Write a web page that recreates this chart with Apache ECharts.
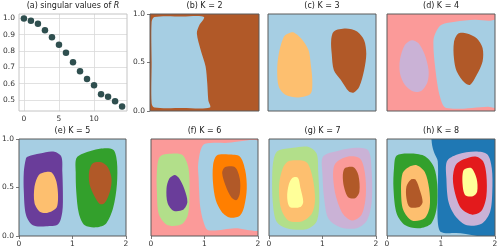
<!DOCTYPE html>
<html><head><meta charset="utf-8">
<script src="https://cdn.jsdelivr.net/npm/echarts@6/dist/echarts.min.js"></script>
<style>html,body{margin:0;padding:0;background:#fff}#c{width:500px;height:251px}</style>
</head><body><div id="c"></div>
<script>
// ---- data ----
const singularIndex = [0,1,2,3,4,5,6,7,8,9,10,11,12,13,14];
const singularValues = [1.000,0.986,0.967,0.928,0.885,0.838,0.789,0.732,0.676,0.629,0.590,0.535,0.520,0.492,0.461];
const singularXTicks = [0,5,10];
const singularYTicks = [0.5,0.6,0.7,0.8,0.9,1.0];
const panelTitles = ['(b) K = 2','(c) K = 3','(d) K = 4','(e) K = 5','(f) K = 6','(g) K = 7','(h) K = 8'];

// Paired colour map
const paired = {lb:'#a6cee3',b:'#1f78b4',lg:'#b2df8a',g:'#33a02c',pk:'#fb9a99',r:'#e31a1c',
  lo:'#fdbf6f',o:'#ff7f00',lv:'#cab2d6',pu:'#6a3d9a',y:'#ffff99',br:'#b15928'};

// regions: [colour, outline in (x,y) domain units]; null outline = whole domain
const regionsK2 = [
  ['br', null],
  ['lb', [[0.08,0.97],[0.6,0.975],[0.99,0.97],[0.9,0.88],[0.86,0.8],[0.93,0.63],[1.02,0.46],[1.05,0.29],[1.07,0.11],[1.1,0.035],[0.6,0.03],[0.08,0.035],[0.03,0.08],[0.03,0.5],[0.03,0.92]]]
];
const regionsK3 = [
  ['lb', null],
  ['lo', [[0.42,0.81],[0.30,0.77],[0.20,0.59],[0.17,0.42],[0.20,0.25],[0.33,0.165],[0.57,0.14],[0.79,0.18],[0.82,0.32],[0.79,0.49],[0.75,0.63],[0.61,0.75],[0.48,0.81]]],
  ['br', [[1.22,0.82],[1.44,0.85],[1.65,0.82],[1.78,0.73],[1.82,0.59],[1.78,0.42],[1.69,0.25],[1.59,0.19],[1.50,0.20],[1.35,0.32],[1.22,0.42],[1.18,0.59],[1.17,0.73]]]
];
const regionsK4 = [
  ['pk', null],
  ['lb', [[1.01,0.89],[1.26,0.92],[1.63,0.94],[1.88,0.93],[2.1,0.93],[2.1,0.04],[1.87,0.045],[1.10,0.03],[0.98,0.15],[0.89,0.46],[0.86,0.73],[0.92,0.83]]],
  ['lv', [[0.46,0.73],[0.33,0.68],[0.24,0.53],[0.24,0.39],[0.33,0.27],[0.49,0.20],[0.64,0.21],[0.75,0.30],[0.77,0.42],[0.70,0.58],[0.58,0.70]]],
  ['br', [[1.32,0.80],[1.48,0.80],[1.66,0.75],[1.77,0.65],[1.77,0.51],[1.66,0.37],[1.54,0.27],[1.44,0.29],[1.29,0.41],[1.24,0.54],[1.24,0.71]]]
];
const regionsK5 = [
  ['lb', null],
  ['pu', [[0.17,0.82],[0.39,0.85],[0.64,0.87],[0.79,0.82],[0.81,0.66],[0.82,0.46],[0.81,0.25],[0.73,0.12],[0.51,0.10],[0.26,0.11],[0.13,0.22],[0.09,0.46],[0.09,0.66],[0.13,0.80]]],
  ['lo', [[0.51,0.66],[0.37,0.63],[0.29,0.51],[0.29,0.34],[0.39,0.25],[0.54,0.24],[0.70,0.29],[0.73,0.41],[0.70,0.56],[0.62,0.65]]],
  ['g',  [[1.07,0.80],[1.20,0.85],[1.51,0.90],[1.76,0.89],[1.83,0.77],[1.83,0.53],[1.76,0.29],[1.63,0.13],[1.45,0.09],[1.23,0.11],[1.12,0.23],[1.07,0.46],[1.06,0.66]]],
  ['br', [[1.38,0.75],[1.54,0.76],[1.66,0.71],[1.73,0.59],[1.70,0.46],[1.60,0.34],[1.51,0.33],[1.41,0.41],[1.32,0.53],[1.31,0.66]]]
];
const regionsK6 = [
  ['pk', null],
  ['lb', [[1.01,0.95],[1.38,0.96],[2.1,0.95],[2.1,0.08],[1.57,0.08],[1.07,0.06],[0.98,0.15],[0.92,0.30],[0.90,0.46],[0.89,0.60],[0.88,0.73],[0.93,0.89]]],
  ['lg', [[0.17,0.82],[0.45,0.85],[0.60,0.83],[0.70,0.70],[0.72,0.46],[0.69,0.22],[0.57,0.12],[0.32,0.11],[0.15,0.22],[0.11,0.46],[0.11,0.66]]],
  ['pu', [[0.44,0.63],[0.52,0.60],[0.62,0.49],[0.68,0.35],[0.60,0.27],[0.42,0.26],[0.31,0.34],[0.29,0.49],[0.34,0.59]]],
  ['o',  [[1.23,0.83],[1.45,0.84],[1.66,0.82],[1.76,0.68],[1.79,0.49],[1.74,0.30],[1.66,0.21],[1.47,0.19],[1.32,0.25],[1.21,0.37],[1.16,0.54],[1.16,0.73]]],
  ['br', [[1.38,0.71],[1.57,0.71],[1.66,0.59],[1.66,0.44],[1.60,0.37],[1.50,0.40],[1.40,0.51],[1.33,0.65]]]
];
const regionsK7 = [
  ['lb', null],
  ['lg', [[0.17,0.88],[0.45,0.91],[0.73,0.92],[0.89,0.85],[0.92,0.66],[0.94,0.35],[0.89,0.15],[0.70,0.07],[0.33,0.08],[0.14,0.15],[0.07,0.35],[0.06,0.63],[0.09,0.80]]],
  ['lo', [[0.36,0.77],[0.58,0.78],[0.72,0.75],[0.82,0.59],[0.86,0.37],[0.80,0.23],[0.61,0.15],[0.36,0.16],[0.22,0.29],[0.19,0.53],[0.26,0.70]]],
  ['y',  [[0.44,0.60],[0.54,0.60],[0.59,0.49],[0.64,0.35],[0.59,0.30],[0.39,0.30],[0.34,0.40],[0.37,0.53]]],
  ['lv', [[1.01,0.82],[1.30,0.88],[1.64,0.91],[1.86,0.88],[1.92,0.66],[1.92,0.35],[1.83,0.16],[1.64,0.08],[1.33,0.09],[1.11,0.18],[1.03,0.39],[1.00,0.63]]],
  ['pk', [[1.28,0.77],[1.48,0.82],[1.70,0.80],[1.79,0.66],[1.81,0.42],[1.73,0.22],[1.55,0.16],[1.38,0.23],[1.25,0.41],[1.20,0.59],[1.21,0.71]]],
  ['br', [[1.42,0.70],[1.58,0.71],[1.67,0.63],[1.69,0.46],[1.61,0.39],[1.48,0.40],[1.40,0.51],[1.38,0.63]]]
];
const regionsK8 = [
  ['lb', null],
  ['b',  [[0.88,0.85],[0.83,0.96],[0.85,1.1],[2.1,1.1],[2.1,0.03],[1.28,0.03],[1.0,0.04],[0.94,0.15],[0.94,0.46],[0.94,0.77]]],
  ['g',  [[0.18,0.83],[0.46,0.85],[0.71,0.82],[0.87,0.71],[0.93,0.53],[0.92,0.29],[0.82,0.13],[0.59,0.08],[0.34,0.11],[0.18,0.23],[0.12,0.49],[0.13,0.70]]],
  ['lo', [[0.40,0.71],[0.55,0.73],[0.70,0.66],[0.78,0.49],[0.79,0.30],[0.69,0.18],[0.46,0.16],[0.30,0.27],[0.26,0.47],[0.29,0.65]]],
  ['br', [[0.44,0.58],[0.53,0.58],[0.61,0.47],[0.66,0.35],[0.60,0.30],[0.42,0.30],[0.36,0.39],[0.36,0.51]]],
  ['lv', [[1.11,0.77],[1.30,0.84],[1.64,0.87],[1.86,0.84],[1.94,0.70],[1.95,0.46],[1.91,0.25],[1.76,0.13],[1.48,0.11],[1.27,0.20],[1.14,0.35],[1.10,0.59]]],
  ['r',  [[1.27,0.73],[1.42,0.79],[1.64,0.82],[1.78,0.77],[1.84,0.63],[1.84,0.41],[1.75,0.26],[1.58,0.22],[1.38,0.28],[1.27,0.42],[1.22,0.59]]],
  ['y',  [[1.42,0.68],[1.56,0.70],[1.66,0.59],[1.67,0.46],[1.59,0.41],[1.45,0.42],[1.40,0.53]]]
];
const panelRegions = [regionsK2,regionsK3,regionsK4,regionsK5,regionsK6,regionsK7,regionsK8];

// ---- layout ----
const FONT = 'DejaVu Sans';
const boxes = [[19,14,108,97],[150,14,109,97],[268,14,108,97],[387,14,108,97],
               [19,139,107,97],[151,139,107,97],[269,139,107,97],[387,139,108,97]];

const grid = [], xAxis = [], yAxis = [], series = [], title = [];
boxes.forEach((b, i) => {
  grid.push({left:b[0], top:b[1], width:b[2], height:b[3], show:true, z:10,
    backgroundColor:'transparent', borderWidth:1,
    borderColor: i === 0 ? '#c4c4c4' : '#5a5a5a', outerBoundsMode:'none', containLabel:false});
});
const lblStyle = {fontFamily:FONT, fontSize:7.5, color:'#333'};

// panel (a)
title.push({text:'(a) singular values of {i|R}', left:boxes[0][0]+boxes[0][2]/2, top:boxes[0][1]-12, textAlign:'center', padding:0,
  textStyle:{fontFamily:FONT, fontSize:8, fontWeight:'normal', color:'#222', rich:{i:{fontFamily:FONT, fontSize:8, fontStyle:'italic', color:'#222'}}}});
xAxis.push({type:'value', gridIndex:0, min:-0.7, max:14.7,
  axisLine:{show:false}, axisTick:{show:false, customValues:singularXTicks},
  axisLabel:Object.assign({show:true, margin:4, customValues:singularXTicks, formatter:v=>String(v)}, lblStyle),
  splitLine:{show:true, lineStyle:{color:'#d9d9d9', width:0.8}}});
yAxis.push({type:'value', gridIndex:0, min:0.433, max:1.027,
  axisLine:{show:false}, axisTick:{show:false, customValues:singularYTicks},
  axisLabel:Object.assign({show:true, margin:4, customValues:singularYTicks, formatter:v=>v.toFixed(1)}, lblStyle),
  splitLine:{show:true, lineStyle:{color:'#d9d9d9', width:0.8}}});
series.push({type:'scatter', xAxisIndex:0, yAxisIndex:0, symbolSize:6.5,
  itemStyle:{color:'#2f4f4f', opacity:1}, data:singularIndex.map((x,k)=>[x, singularValues[k]])});

// panels (b)-(h)
panelRegions.forEach((regions, p) => {
  const gi = p + 1;
  const b = boxes[gi];
  const row2 = gi >= 4;
  const showY = gi === 1 || gi === 4;
  title.push({text:panelTitles[p], left:b[0]+b[2]/2, top:b[1]-12, textAlign:'center', padding:0,
    textStyle:{fontFamily:FONT, fontSize:8, fontWeight:'normal', color:'#222'}});
  xAxis.push({type:'value', gridIndex:gi, min:0, max:2, interval:1,
    axisLine:{show:false}, axisTick:{show:row2, length:3, lineStyle:{color:'#555', width:0.8}},
    axisLabel:Object.assign({show:row2, margin:4, showMinLabel:true, showMaxLabel:true, formatter:v=>String(v)}, lblStyle),
    splitLine:{show:false}});
  yAxis.push({type:'value', gridIndex:gi, min:0, max:1, interval:0.5,
    axisLine:{show:false}, axisTick:{show:showY, length:3, lineStyle:{color:'#555', width:0.8}},
    axisLabel:Object.assign({show:showY, margin:5, showMinLabel:true, showMaxLabel:true, formatter:v=>v.toFixed(1)}, lblStyle),
    splitLine:{show:false}});
  series.push({type:'custom', coordinateSystem:'cartesian2d', xAxisIndex:gi, yAxisIndex:gi, clip:true, silent:true,
    data: regions.map((r,k)=>[k, k]),
    renderItem: (params, api) => {
      const reg = regions[params.dataIndex];
      const fill = paired[reg[0]];
      if (!reg[1]) {
        const p0 = api.coord([0,1]), p1 = api.coord([2,0]);
        return {type:'rect', shape:{x:p0[0], y:p0[1], width:p1[0]-p0[0], height:p1[1]-p0[1]}, style:{fill:fill}};
      }
      return {type:'polygon', shape:{points: reg[1].map(pt=>api.coord(pt)), smooth:0.3}, style:{fill:fill}};
    }});
});

const chart = echarts.init(document.getElementById('c'), null, {renderer:'canvas'});
chart.setOption({animation:false, backgroundColor:'#fff', title, grid, xAxis, yAxis, series});
</script></body></html>
